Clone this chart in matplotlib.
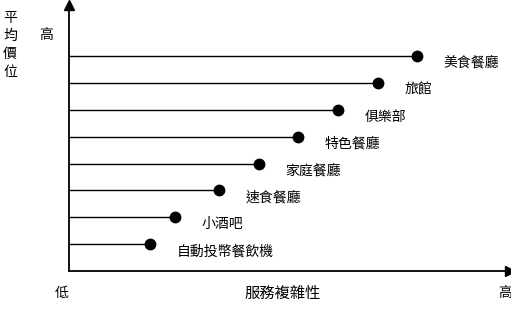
import matplotlib
matplotlib.use("Agg")
import matplotlib.pyplot as plt

plt.rcParams['font.family'] = ['Noto Sans CJK TC', 'DejaVu Sans']

categories = ["美食餐廳", "旅館", "俱樂部", "特色餐廳", "家庭餐廳", "速食餐廳", "小酒吧", "自動投幣餐飲機"]
complexity = [79, 70, 61, 52, 43, 34, 24, 18.4]
price = [8, 7, 6, 5, 4, 3, 2, 1]

W, H = 511, 309
fig = plt.figure(figsize=(W/100, H/100), dpi=100)
x0, x1, y0, y1 = 69, 510, 271, 5
ax = fig.add_axes([x0/W, 1 - y0/H, (x1-x0)/W, (y0-y1)/H])
ax.set_xlim(0, 100)
ax.set_ylim(0, 9.9)
ax.set_xticks([]); ax.set_yticks([])
for s in ['top', 'right']:
    ax.spines[s].set_visible(False)
for s in ['left', 'bottom']:
    ax.spines[s].set_linewidth(1.3)
ax.plot([0], [9.9], marker='^', color='black', markersize=7, clip_on=False)
ax.plot([100], [0], marker='>', color='black', markersize=7, clip_on=False)

for c, x, y in zip(categories, complexity, price):
    ax.plot([0, x], [y, y], color='black', lw=1.0)
    ax.plot([x], [y], 'o', color='black', markersize=7.5)
    ax.annotate(c, (x, y), xytext=(19, -5), textcoords='offset points',
                ha='left', va='center', fontsize=10)

fig.text(10/W, 1 - 45/H, "平\n均\n價\n位", ha='center', va='center', fontsize=10, linespacing=1.35)
fig.text(46/W, 1 - 35/H, "高", ha='center', va='center', fontsize=10)
fig.text(62/W, 1 - 293/H, "低", ha='center', va='center', fontsize=10)
fig.text(283/W, 1 - 293/H, "服務複雜性", ha='center', va='center', fontsize=11)
fig.text(505/W, 1 - 293/H, "高", ha='center', va='center', fontsize=10)

fig.savefig("out.png", dpi=100)
